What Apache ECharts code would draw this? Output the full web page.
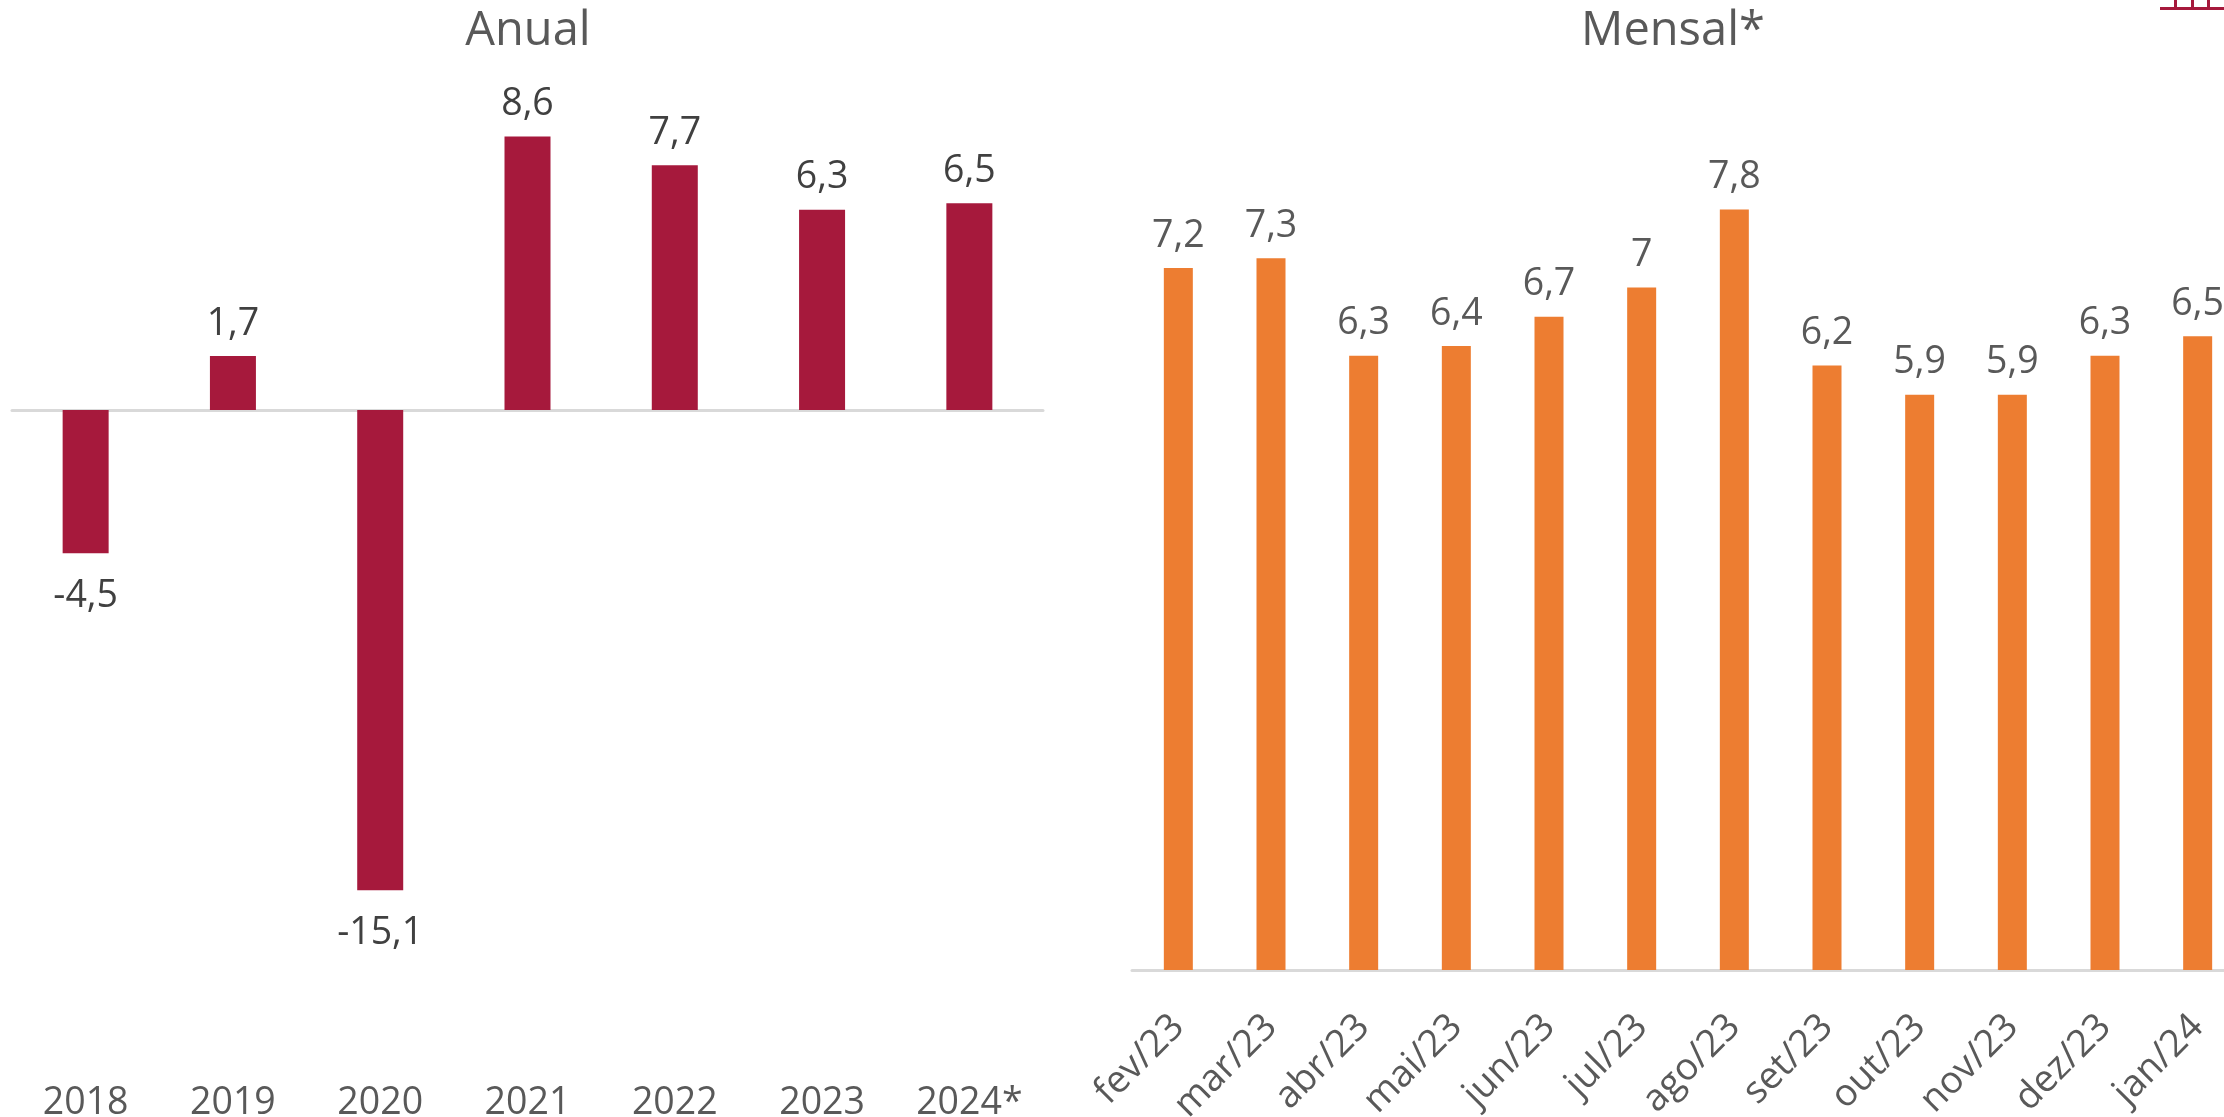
<!DOCTYPE html>
<html>
<head>
<meta charset="utf-8">
<title>Anual e Mensal</title>
<script src="https://cdn.jsdelivr.net/npm/echarts@6/dist/echarts.min.js"></script>
<style>
	html, body { margin: 0; padding: 0; background: #fff; overflow: hidden; }
	#chart { width: 2224px; height: 1117px; }
</style>
</head>
<body>
<div id="chart"></div>
<script>
const anos = ['2018', '2019', '2020', '2021', '2022', '2023', '2024*'];
const valoresAnuais = [-4.5, 1.7, -15.1, 8.6, 7.7, 6.3, 6.5];

const meses = ['fev/23', 'mar/23', 'abr/23', 'mai/23', 'jun/23', 'jul/23', 'ago/23', 'set/23', 'out/23', 'nov/23', 'dez/23', 'jan/24'];
const valoresMensais = [7.2, 7.3, 6.3, 6.4, 6.7, 7, 7.8, 6.2, 5.9, 5.9, 6.3, 6.5];

const FONT = '"Open Sans", sans-serif';

function formatComma(params) {
	return String(params.value).replace('.', ',');
}

const chart = echarts.init(document.getElementById('chart'), null, { renderer: 'canvas' });

chart.setOption({
	animation: false,
	backgroundColor: '#ffffff',
	title: [
		{ text: 'Anual', left: 523, top: 3, textAlign: 'center', textStyle: { fontFamily: FONT, fontSize: 47, fontWeight: 'normal', color: '#595959' } },
		{ text: 'Mensal*', left: 1668, top: 3, textAlign: 'center', textStyle: { fontFamily: FONT, fontSize: 47, fontWeight: 'normal', color: '#595959' } }
	],
	// outerBoundsMode none: keep the grids as given, the last monthly bar runs past the right edge
	grid: [
		{ left: 12, top: 92, width: 1031, height: 827, outerBoundsMode: 'none' },
		{ left: 1132, top: 190, width: 1112, height: 780, outerBoundsMode: 'none' }
	],
	xAxis: [
		{
			// zero line of the annual chart
			type: 'category', gridIndex: 0, data: anos,
			axisLine: { onZero: true, lineStyle: { color: '#d9d9d9', width: 3 } },
			axisTick: { show: false }, axisLabel: { show: false }
		},
		{
			// annual labels sit at the bottom, away from the zero line
			type: 'category', gridIndex: 0, data: anos, position: 'bottom',
			axisLine: { show: false, onZero: false }, axisTick: { show: false },
			axisLabel: { margin: 165, fontFamily: FONT, fontSize: 37.5, color: '#595959' }
		},
		{
			type: 'category', gridIndex: 1, data: meses,
			axisLine: { lineStyle: { color: '#d9d9d9', width: 3 } },
			axisTick: { show: false },
			axisLabel: { rotate: 45, margin: 51, interval: 0, fontFamily: FONT, fontSize: 37.5, color: '#595959' }
		}
	],
	yAxis: [
		{ type: 'value', gridIndex: 0, min: -16, max: 10, show: false, splitLine: { show: false } },
		{ type: 'value', gridIndex: 1, min: 0, max: 8, show: false, splitLine: { show: false } }
	],
	series: [
		{
			type: 'bar', xAxisIndex: 0, yAxisIndex: 0, barWidth: 46,
			// negative labels stand a little further from their bar
			data: valoresAnuais.map(v => (v < 0 ? { value: v, label: { distance: 24 } } : v)),
			itemStyle: { color: '#A6193C' },
			label: { show: true, position: 'outside', distance: 13, formatter: formatComma, fontFamily: FONT, fontSize: 37.5, color: '#404040' }
		},
		{
			type: 'bar', xAxisIndex: 2, yAxisIndex: 1, data: valoresMensais, barWidth: 29,
			itemStyle: { color: '#ED7D31' },
			label: { show: true, position: 'outside', distance: 13, formatter: formatComma, fontFamily: FONT, fontSize: 37.5, color: '#595959' }
		}
	],
	graphic: [
		// piece of the logo cut off at the top right corner
		{ type: 'rect', shape: { x: 2160, y: 7, width: 64, height: 3 }, style: { fill: '#A6193C' } },
		{ type: 'rect', shape: { x: 2174, y: 0, width: 3, height: 8 }, style: { fill: '#A6193C' } },
		{ type: 'rect', shape: { x: 2191, y: 0, width: 3, height: 8 }, style: { fill: '#A6193C' } },
		{ type: 'rect', shape: { x: 2207, y: 0, width: 3, height: 8 }, style: { fill: '#A6193C' } }
	]
});

window.addEventListener('resize', () => chart.resize());
</script>
</body>
</html>
